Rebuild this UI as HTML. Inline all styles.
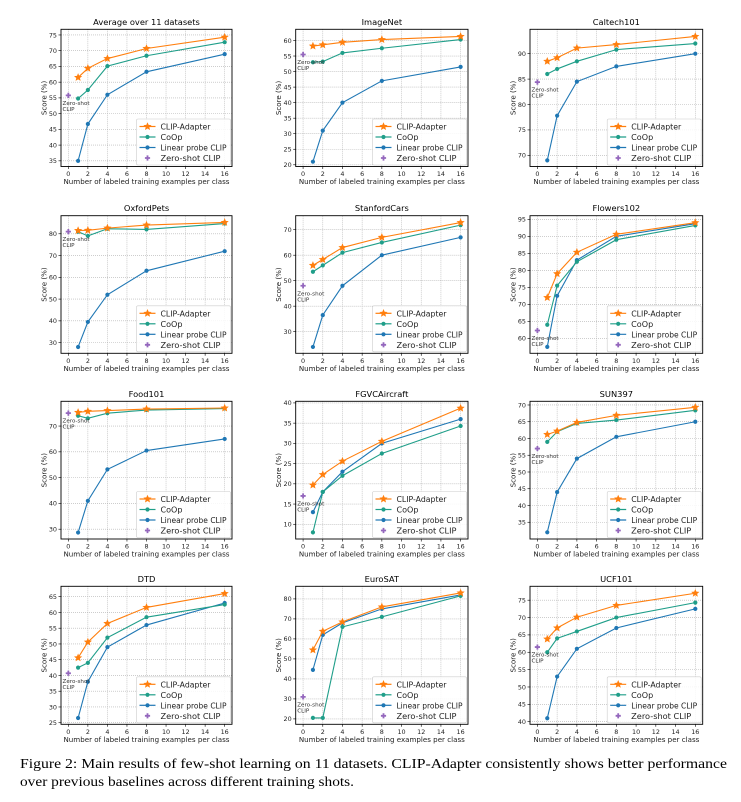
<!DOCTYPE html>
<html><head><meta charset="utf-8">
<style>
html,body{margin:0;padding:0;background:#fff;}
svg{display:block;}
</style></head>
<body>
<svg id="fig" width="741" height="802" viewBox="0 0 741 802" xmlns="http://www.w3.org/2000/svg" font-family="'DejaVu Sans','Liberation Sans',sans-serif">
<text x="20" y="768" font-family="'Liberation Serif',serif" font-size="13.5" fill="#000" textLength="707" lengthAdjust="spacingAndGlyphs">Figure 2: Main results of few-shot learning on 11 datasets. CLIP-Adapter consistently shows better performance</text>
<text x="20" y="786" font-family="'Liberation Serif',serif" font-size="13.5" fill="#000" textLength="334" lengthAdjust="spacingAndGlyphs">over previous baselines across different training shots.</text>
</svg>
<script>
const shots = [1, 2, 4, 8, 16];
const xTicks = [0, 2, 4, 6, 8, 10, 12, 14, 16];
const titles = ["Average over 11 datasets","ImageNet","Caltech101","OxfordPets","StanfordCars","Flowers102","Food101","FGVCAircraft","SUN397","DTD","EuroSAT","UCF101"];
const clipAdapter = [
 [61.5,64.4,67.5,70.7,74.3],[58.2,58.6,59.4,60.3,61.3],[88.5,89.2,91.1,91.8,93.4],
 [81.5,81.6,82.6,84.0,85.2],[56.0,58.3,63.0,67.0,72.8],[72.0,79.0,85.3,90.6,94.0],
 [75.3,75.7,76.0,76.6,77.0],[19.7,22.3,25.6,30.5,38.7],[61.2,62.2,64.8,66.9,69.3],
 [45.6,50.6,56.5,61.6,66.0],[54.5,63.8,68.5,76.0,83.0],[63.8,67.0,70.1,73.5,77.0]];
const coop = [
 [54.8,57.5,65.1,68.4,72.7],[53.0,53.2,56.0,57.5,60.3],[86.0,87.0,88.5,90.8,92.0],
 [81.0,79.0,82.3,82.0,84.7],[53.5,56.0,61.0,65.0,71.8],[64.0,75.5,82.5,89.0,93.2],
 [74.0,73.0,75.0,76.2,76.8],[8.0,18.0,22.0,27.5,34.3],[59.0,62.0,64.5,65.5,68.4],
 [42.5,44.0,52.0,58.5,62.5],[20.5,20.5,66.0,71.0,81.5],[60.0,64.0,66.0,70.0,74.3]];
const linearProbe = [
 [35.0,46.7,56.0,63.3,68.9],[21.0,31.0,40.0,47.0,51.5],[69.0,77.8,84.5,87.5,90.0],
 [28.0,39.5,52.0,63.0,72.0],[24.0,36.5,48.0,60.0,67.0],[57.5,72.5,83.0,90.0,93.7],
 [28.7,41.0,53.2,60.5,65.0],[13.0,18.0,23.0,30.0,36.0],[32.0,44.0,54.0,60.5,65.0],
 [26.5,38.0,49.0,56.0,63.0],[44.5,62.0,68.0,75.0,82.0],[41.0,53.0,61.0,67.0,72.5]];
const zeroShot = [55.8,55.5,84.4,81.0,48.0,62.3,75.0,17.0,57.0,40.7,31.0,61.5];
const yMin = [33.2,19.45,67.8,25.1,21.5,55.6,26.2,6.36,30.0,24.5,17.3,39.25];
const yMax = [76.8,63.6,94.8,88.3,75.5,96.06,79.6,40.4,71.1,68.3,86.3,79.0];
const yTicks = [
 [35,40,45,50,55,60,65,70,75],[20,25,30,35,40,45,50,55,60],[70,75,80,85,90],
 [30,40,50,60,70,80],[30,40,50,60,70],[60,65,70,75,80,85,90,95],
 [30,40,50,60,70],[10,15,20,25,30,35,40],[35,40,45,50,55,60,65,70],
 [25,30,35,40,45,50,55,60,65],[20,30,40,50,60,70,80],[40,45,50,55,60,65,70,75]];
const seriesNames = ["CLIP-Adapter","CoOp","Linear probe CLIP","Zero-shot CLIP"];

const NS = "http://www.w3.org/2000/svg";
const svg = document.getElementById('fig');
const colLeft = [61, 295.7, 530], colRight = [232, 468, 702.7];
const rowTop = [29.3, 215.7, 401.3, 586.3], rowBot = [166.5, 353.3, 539, 724.3];
const C_CA = "#ff7f0e", C_CO = "#1f9e89", C_LP = "#1f77b4", C_ZS = "#9467bd";
const fontTick = 6.4;

function mk(tag, attrs, parent){
  const e = document.createElementNS(NS, tag);
  for (const k in attrs) e.setAttribute(k, attrs[k]);
  (parent||svg).appendChild(e);
  return e;
}
function starPts(cx, cy, R){
  const r = R*0.45; let p = [];
  for (let i=0;i<10;i++){
    const a = -Math.PI/2 + i*Math.PI/5, rr = i%2?r:R;
    p.push((cx+rr*Math.cos(a)).toFixed(2)+","+(cy+rr*Math.sin(a)).toFixed(2));
  }
  return p.join(" ");
}
function plusPts(cx, cy){
  const a=2.6,b=0.9;
  return [cx-b,cy-a,cx+b,cy-a,cx+b,cy-b,cx+a,cy-b,cx+a,cy+b,cx+b,cy+b,cx+b,cy+a,cx-b,cy+a,cx-b,cy+b,cx-a,cy+b,cx-a,cy-b,cx-b,cy-b].join(" ");
}

titles.forEach((title, i) => {
  const col = i % 3, row = Math.floor(i/3);
  const L = colLeft[col], R = colRight[col], T = rowTop[row], B = rowBot[row];
  const xs = v => L + (v + 0.75) / 17.5 * (R - L);
  const ys = v => B - (v - yMin[i]) / (yMax[i] - yMin[i]) * (B - T);
  const g = mk('g', {});
  
  

  xTicks.forEach(t => {
    const ln = mk('line', {x1:xs(t), x2:xs(t), y1:T, y2:B, stroke:"#b0b0b0", "stroke-width":0.6, "stroke-dasharray":"1,1"}, g);
    
    
    const tk = mk('line', {x1:xs(t), x2:xs(t), y1:B, y2:B+2.5, stroke:"#000", "stroke-width":0.6}, g);
    
    
    const tl = mk('text', {x:xs(t), y:B+9.5, "font-size":fontTick, "text-anchor":"middle", fill:"#222"}, g);
    tl.textContent = t;
    
    
  });
  yTicks[i].forEach(t => {
    const ln = mk('line', {x1:L, x2:R, y1:ys(t), y2:ys(t), stroke:"#b0b0b0", "stroke-width":0.6, "stroke-dasharray":"1,1"}, g);
    
    
    const tk = mk('line', {x1:L-2.5, x2:L, y1:ys(t), y2:ys(t), stroke:"#000", "stroke-width":0.6}, g);
    
    
    const tl = mk('text', {x:L-4, y:ys(t)+2.3, "font-size":fontTick, "text-anchor":"end", fill:"#222"}, g);
    tl.textContent = t;
    
    
  });

  const drawLine = (vals, color, name, star) => {
    const pl = mk('polyline', {points: shots.map((s,k)=>xs(s)+","+ys(vals[k])).join(" "), fill:"none", stroke:color, "stroke-width":1.1}, g);
    
    
    shots.forEach((s,k) => {
      let m;
      if (star) m = mk('polygon', {points: starPts(xs(s), ys(vals[k]), 4.3), fill:color}, g);
      else m = mk('circle', {cx:xs(s), cy:ys(vals[k]), r:2.1, fill:color}, g);
      
      
    });
  };
  drawLine(linearProbe[i], C_LP, 'linear-probe', false);
  drawLine(coop[i], C_CO, 'coop', false);
  drawLine(clipAdapter[i], C_CA, 'clip-adapter', true);
  const zs = mk('polygon', {points: plusPts(xs(0), ys(zeroShot[i])), fill:C_ZS}, g);
  
  
  const zt = mk('text', {x:L+1.5, y:ys(zeroShot[i])+9.5, "font-size":5.6, fill:"#333"}, g);
  zt.textContent = "Zero-shot";
  
  
  const zt2 = mk('text', {x:L+1.5, y:ys(zeroShot[i])+15.5, "font-size":5.6, fill:"#333"}, g);
  zt2.textContent = "CLIP";
  
  

  const fr = mk('rect', {x:L, y:T, width:R-L, height:B-T, fill:"none", stroke:"#000", "stroke-width":0.9}, g);
  
  

  const tt = mk('text', {x:(L+R)/2, y:T-4.5, "font-size":8.3, "text-anchor":"middle", fill:"#000"}, g);
  tt.textContent = title;
  
  
  const xl = mk('text', {x:(L+R)/2, y:B+17.5, "font-size":7.1, "text-anchor":"middle", fill:"#222"}, g);
  xl.textContent = "Number of labeled training examples per class";
  
  
  const yx = L-14.5, yy = (T+B)/2;
  const yl = mk('text', {x:yx, y:yy, "font-size":7.1, "text-anchor":"middle", fill:"#222", transform:`rotate(-90 ${yx} ${yy})`}, g);
  yl.textContent = "Score (%)";
  
  

  const lw = 94, lh = 46, lx = R - lw - 1.5, ly = B - lh - 1.5;
  const lg = mk('g', {}, g);
  
  
  mk('rect', {x:lx, y:ly, width:lw, height:lh, fill:"#fff", "fill-opacity":0.85, stroke:"#ccc", "stroke-width":0.6, rx:1.5}, lg);
  const cols = [C_CA, C_CO, C_LP, C_ZS];
  const lens = [50, 22, 66, 60];
  seriesNames.forEach((nm, k) => {
    const ey = ly + 7.5 + k*10.5;
    const ent = mk('g', {}, lg);
    
    
    if (k < 3) mk('line', {x1:lx+3, x2:lx+19, y1:ey, y2:ey, stroke:cols[k], "stroke-width":1.2}, ent);
    if (k === 0) mk('polygon', {points: starPts(lx+11, ey, 4.3), fill:cols[k]}, ent);
    else if (k < 3) mk('circle', {cx:lx+11, cy:ey, r:2.1, fill:cols[k]}, ent);
    else mk('polygon', {points: plusPts(lx+11, ey), fill:cols[k]}, ent);
    const t = mk('text', {x:lx+24, y:ey+3, "font-size":8, fill:"#222", textLength:lens[k], lengthAdjust:"spacingAndGlyphs"}, ent);
    t.textContent = nm;
  });
});
</script>
</body></html>
